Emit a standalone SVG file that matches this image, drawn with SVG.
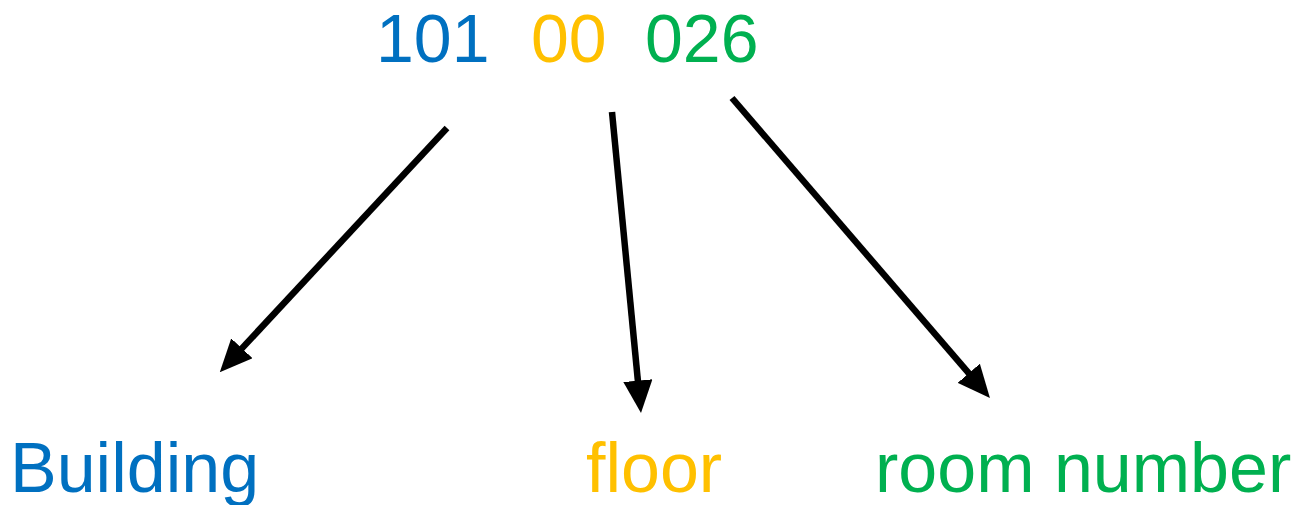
<svg xmlns="http://www.w3.org/2000/svg" width="1295" height="505" viewBox="0 0 1295 505">
<style>
text{font-family:"Liberation Sans",Arial,sans-serif;font-size:68px}
.l{font-size:70px}
.b{fill:#0070C0}.y{fill:#FFC000}.g{fill:#00B050}
.c{stroke:#000;stroke-width:6.5;fill:none;marker-end:url(#ah)}
</style>
<defs>
<marker id="ah" viewBox="0 0 5 4.5" markerWidth="5" markerHeight="4.5" refX="1" refY="2.25" orient="auto" markerUnits="strokeWidth">
<path d="M0,0 L5,2.25 L0,4.5 z" fill="#000"/>
</marker>
</defs>
<g id="code">
<text class="b" x="376" y="62">101</text>
<text class="y" x="531" y="62">00</text>
<text class="g" x="645" y="62">026</text>
</g>
<g id="connectors">
<line class="c" x1="447" y1="128" x2="237.5" y2="353.1"/>
<line class="c" x1="612" y1="112" x2="638.5" y2="387.1"/>
<line class="c" x1="732" y1="98" x2="973.0" y2="378.2"/>
</g>
<g id="building"><text class="b l" x="10" y="492">Building</text></g>
<g id="floor"><text class="y l" x="586" y="492">floor</text></g>
<g id="room"><text class="g l" x="875" y="492">room number</text></g>
</svg>
